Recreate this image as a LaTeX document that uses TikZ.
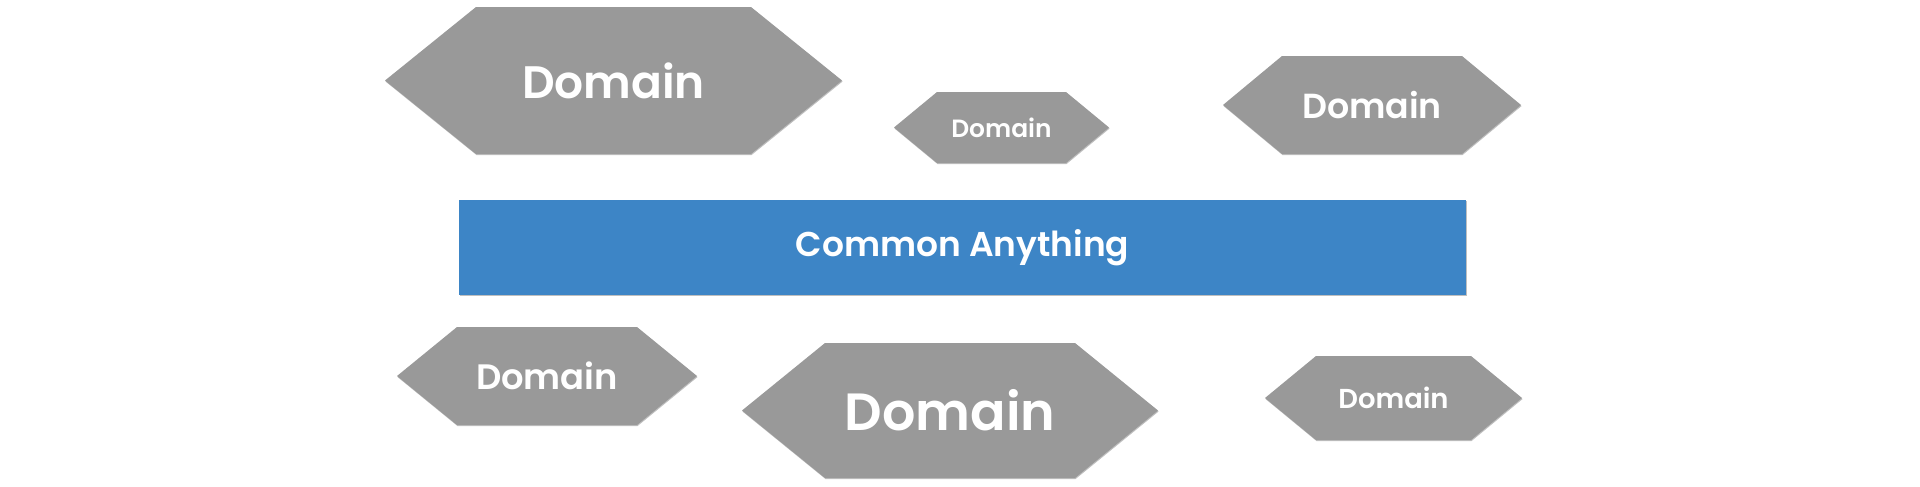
\documentclass[tikz,border=0pt]{standalone}
\usepackage{fontspec}
\setmainfont{Poppins}[BoldFont={Poppins SemiBold}]
\definecolor{domainGray}{HTML}{999999}
\definecolor{commonBlue}{HTML}{3D85C6}
\usetikzlibrary{shadows}

\tikzset{
    softshadow/.style={drop shadow={shadow xshift=0.3pt, shadow yshift=-0.6pt, opacity=0.25, fill=black}},
    domainhex/.style={fill=domainGray, softshadow},
    domaintext/.style={text=white, font=\bfseries, inner sep=0pt},
    commonbox/.style={fill=commonBlue, softshadow, minimum width=1007*0.2mm, minimum height=95*0.2mm, inner sep=0pt}
}

\begin{document}
\begin{tikzpicture}[x=0.2mm, y=-0.2mm]
    \useasboundingbox (0,0) rectangle (1920,487);

    % top row
    \fill[domainhex] (385,80.5) -- (476,7) -- (751,7) -- (842,80.5) -- (751,154) -- (476,154) -- cycle;
    \node[domaintext, font=\bfseries\fontsize{25.9}{30}\selectfont] (domTopA) at (613.5,80.5) {Domain};

    \fill[domainhex] (894,127.5) -- (937,92) -- (1066,92) -- (1109,127.5) -- (1066,163) -- (937,163) -- cycle;
    \node[domaintext, font=\bfseries\fontsize{14.2}{17}\selectfont] (domTopB) at (1001.5,127.5) {Domain};

    \fill[domainhex] (1223,105) -- (1282,56) -- (1462,56) -- (1521,105) -- (1462,154) -- (1282,154) -- cycle;
    \node[domaintext, font=\bfseries\fontsize{19.8}{24}\selectfont] (domTopC) at (1372,105) {Domain};

    % common layer
    \node[commonbox, text=white, font=\bfseries\fontsize{19.6}{22}\selectfont] (common) at (962.5,247.5) {Common Anything};

    % bottom row
    \fill[domainhex] (397,376) -- (457,327) -- (637,327) -- (697,376) -- (637,425) -- (457,425) -- cycle;
    \node[domaintext, font=\bfseries\fontsize{20.1}{24}\selectfont] (domBotA) at (547,376) {Domain};

    \fill[domainhex] (742,410.5) -- (825,343) -- (1075,343) -- (1158,410.5) -- (1075,478) -- (825,478) -- cycle;
    \node[domaintext, font=\bfseries\fontsize{29.8}{34}\selectfont] (domBotB) at (950,410.5) {Domain};

    \fill[domainhex] (1265,398) -- (1316,356) -- (1471,356) -- (1522,398) -- (1471,440) -- (1316,440) -- cycle;
    \node[domaintext, font=\bfseries\fontsize{15.6}{19}\selectfont] (domBotC) at (1393.5,398) {Domain};
\end{tikzpicture}
\end{document}
